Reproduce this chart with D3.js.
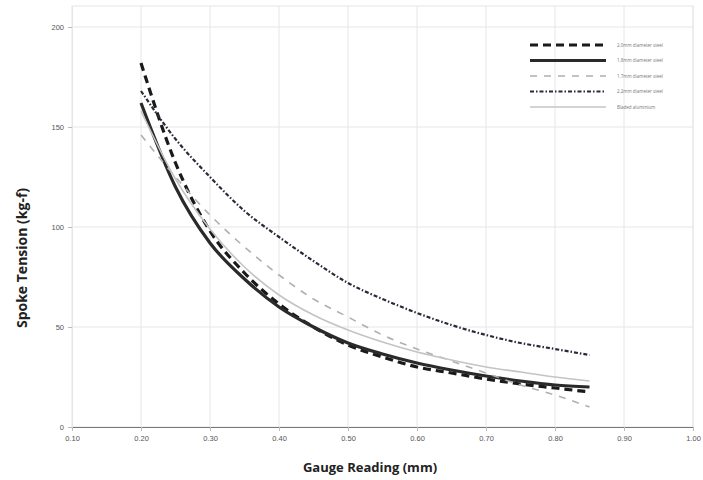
<!DOCTYPE html>
<html>
<head>
<meta charset="utf-8">
<script src="https://cdn.jsdelivr.net/npm/d3@7"></script>
<style>
  body { margin: 0; background: #fff; }
  svg { display: block; font-family: "Open Sans", "Liberation Sans", sans-serif; }
</style>
</head>
<body>
<svg id="chart" width="703" height="480"></svg>
<script>
// gauge readings (mm) where the curves were sampled
const gauge = [0.20, 0.25, 0.30, 0.35, 0.40, 0.45, 0.50, 0.55, 0.60, 0.65, 0.70, 0.75, 0.80, 0.85];

// spoke tension (kg-f) per series
const steel20 = [182, 132, 98, 77, 61.5, 50, 41, 35, 30, 27, 24, 21.5, 19.5, 17.5];
const steel18 = [162, 120, 92, 74, 60, 50, 42, 36.5, 32, 28.5, 25.5, 23, 21, 20];
const steel17 = [146, 125, 106, 90, 76, 64, 55, 46, 39, 33, 27, 21, 16, 10];
const steel22 = [168, 144, 125, 108, 95, 83, 72, 64, 57, 51, 46, 42, 39, 36];
const alu     = [158, 124, 99, 80, 66, 56, 48.5, 42.5, 37.5, 33.5, 30, 27.5, 25, 23];

const seriesNames = ["2.0mm diameter steel", "1.8mm diameter steel", "1.7mm diameter steel", "2.2mm diameter steel", "Bladed aluminium"];
const xTicks = [0.1, 0.2, 0.3, 0.4, 0.5, 0.6, 0.7, 0.8, 0.9, 1.0];
const yTicks = [0, 50, 100, 150, 200];

const styles = [
  { stroke: "#1a1a1a", width: 3.2, dash: "8,5" },
  { stroke: "#2a2a2a", width: 3.2, dash: null },
  { stroke: "#b0b0b0", width: 1.6, dash: "7,7" },
  { stroke: "#2b2838", width: 2.2, dash: "4,2,1.5,2" },
  { stroke: "#c4c4c4", width: 1.6, dash: null }
];

const series = [steel20, steel18, steel17, steel22, alu].map((vals, i) => ({
  name: seriesNames[i],
  style: styles[i],
  points: gauge.map((g, j) => ({ g: g, v: vals[j] }))
}));

const svg = d3.select("#chart");
const plotLeft = 72, plotRight = 693, plotTop = 6, plotBottom = 427;

const x = d3.scaleLinear().domain([0.1, 1.0]).range([plotLeft, plotRight]);
const y = d3.scaleLinear().domain([0, 210.5]).range([plotBottom, plotTop]);

// plot frame and grid
svg.append("rect")
  .attr("x", plotLeft).attr("y", plotTop)
  .attr("width", plotRight - plotLeft).attr("height", plotBottom - plotTop)
  .attr("fill", "none").attr("stroke", "#e6e6e6");

svg.append("g")
  .selectAll("line")
  .data(xTicks.slice(1))
  .enter().append("line")
  .attr("x1", d => x(d)).attr("x2", d => x(d))
  .attr("y1", plotTop).attr("y2", plotBottom)
  .attr("stroke", "#e6e6e6");

svg.append("g")
  .selectAll("line")
  .data(yTicks.slice(1))
  .enter().append("line")
  .attr("x1", plotLeft).attr("x2", plotRight)
  .attr("y1", d => y(d)).attr("y2", d => y(d))
  .attr("stroke", "#e6e6e6");

// axes
const xAxis = svg.append("g")
  .attr("transform", `translate(0,${plotBottom})`)
  .call(d3.axisBottom(x).tickValues(xTicks).tickFormat(d3.format(".2f")).tickSize(4).tickSizeOuter(0));
xAxis.select(".domain").attr("stroke", "#777").attr("stroke-width", 1.2);
xAxis.selectAll(".tick line").attr("stroke", "#bbb");
xAxis.selectAll("text").attr("fill", "#555").style("font-size", "7.5px").attr("dy", "0.9em");

const yAxis = svg.append("g")
  .attr("transform", `translate(${plotLeft},0)`)
  .call(d3.axisLeft(y).tickValues(yTicks).tickSize(4).tickSizeOuter(0));
yAxis.select(".domain").attr("stroke", "#e6e6e6");
yAxis.selectAll(".tick line").attr("stroke", "#bbb");
yAxis.selectAll("text").attr("fill", "#555").style("font-size", "7.5px").attr("x", -8);

// curves
const line = d3.line()
  .x(d => x(d.g))
  .y(d => y(d.v))
  .curve(d3.curveMonotoneX);

svg.append("g")
  .selectAll("path")
  .data(series)
  .enter().append("path")
  .attr("d", d => line(d.points))
  .attr("fill", "none")
  .attr("stroke", d => d.style.stroke)
  .attr("stroke-width", d => d.style.width)
  .attr("stroke-dasharray", d => d.style.dash);

// legend
const legend = svg.append("g")
  .selectAll(".legend-item")
  .data(series)
  .enter().append("g")
  .attr("class", "legend-item")
  .attr("transform", (d, i) => `translate(530,${45 + i * 15.5})`);

legend.append("line")
  .attr("x1", 0).attr("x2", 76)
  .attr("stroke", d => d.style.stroke)
  .attr("stroke-width", d => d.style.width)
  .attr("stroke-dasharray", d => d.style.dash);

legend.append("text")
  .attr("x", 87).attr("dy", "0.35em")
  .attr("fill", "#777")
  .style("font-size", "4.5px")
  .text(d => d.name);

// axis titles
svg.append("text")
  .attr("x", 370).attr("y", 472)
  .attr("text-anchor", "middle")
  .style("font-size", "13px").style("font-weight", "bold")
  .attr("fill", "#222")
  .text("Gauge Reading (mm)");

svg.append("text")
  .attr("transform", "translate(27,258) rotate(-90)")
  .attr("text-anchor", "middle")
  .style("font-size", "14px").style("font-weight", "bold")
  .attr("fill", "#222")
  .text("Spoke Tension (kg-f)");
</script>
</body>
</html>
